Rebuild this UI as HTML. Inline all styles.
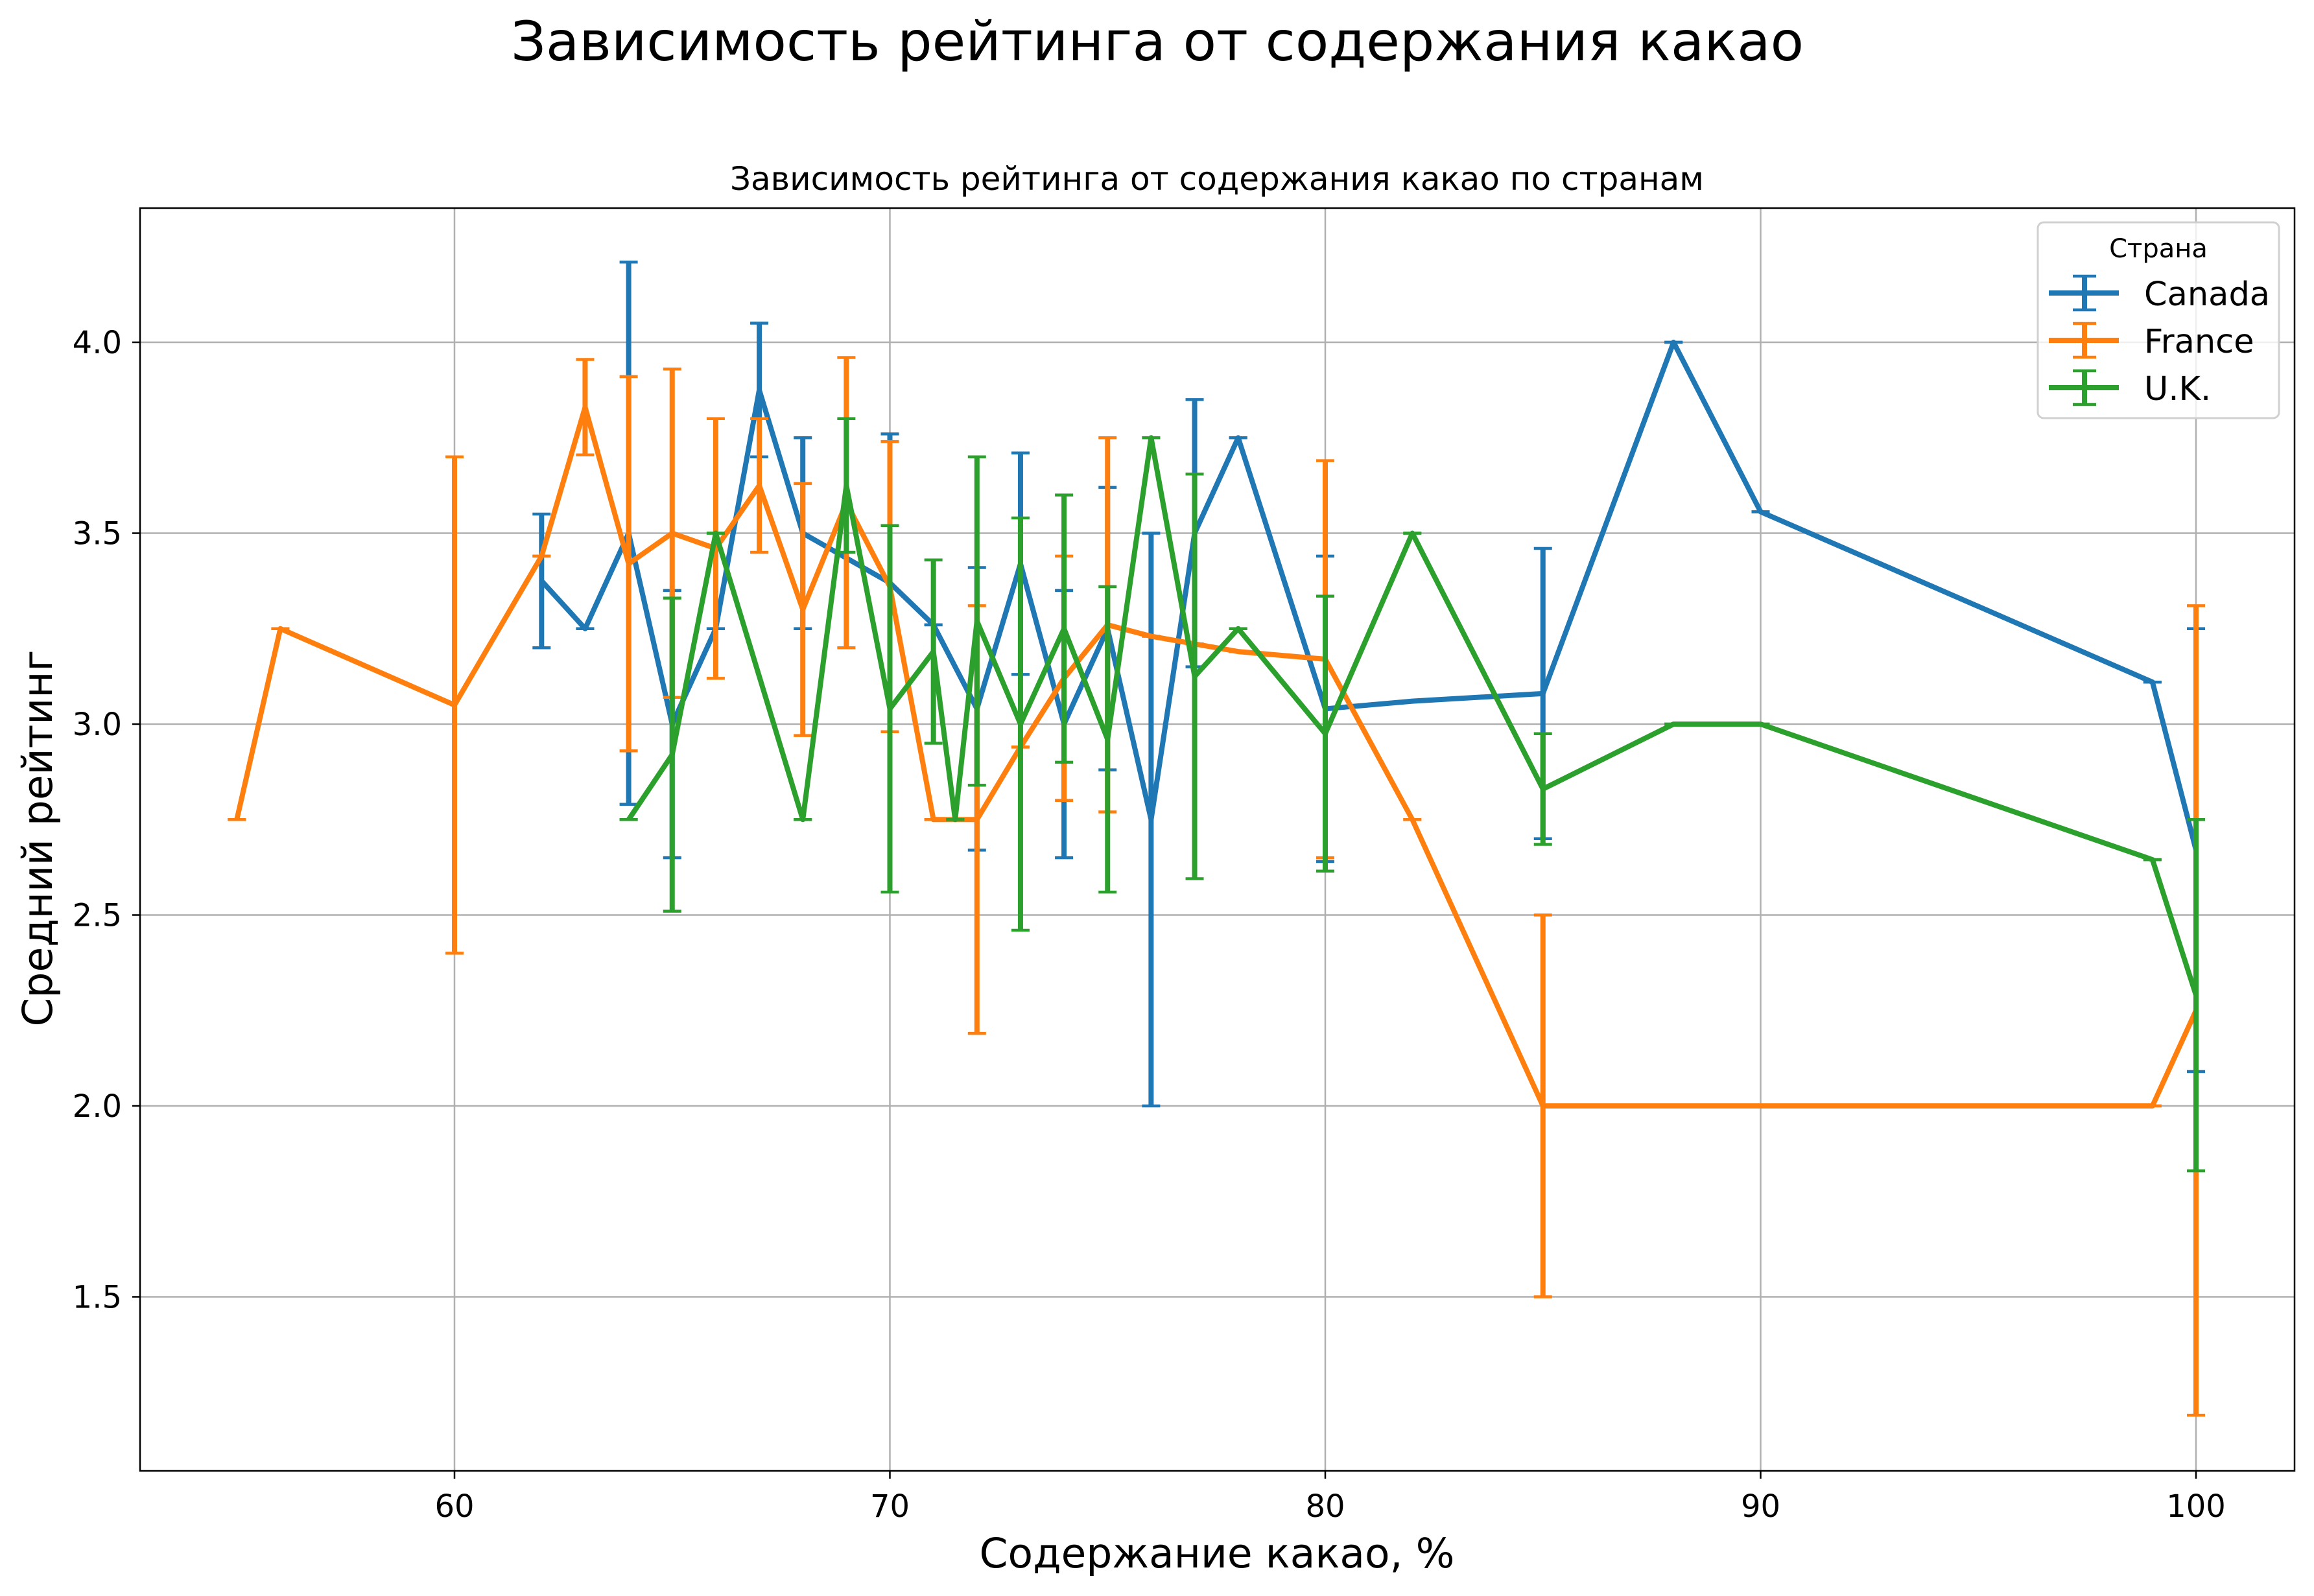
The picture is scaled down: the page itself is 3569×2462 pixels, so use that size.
<!DOCTYPE html>
<html><head><meta charset="utf-8"><style>
html,body{margin:0;padding:0;background:#fff}
svg text{font-family:"DejaVu Sans","Liberation Sans",sans-serif}
</style></head><body>
<svg id="chart" width="3569" height="2457" viewBox="0 0 3569 2457" xmlns="http://www.w3.org/2000/svg">
<rect width="3569" height="2457" fill="#fff"/>
<text x="1785" y="93" font-size="84" text-anchor="middle">Зависимость рейтинга от содержания какао</text>
<text x="1877" y="293" font-size="50" text-anchor="middle">Зависимость рейтинга от содержания какао по странам</text>
<g id="grid"></g>
<g id="series"></g>
<rect x="216" y="321" width="3323" height="1948" fill="none" stroke="#000" stroke-width="2.5"/>
<g id="ticks"></g>
<text x="1877" y="2418" font-size="63" text-anchor="middle">Содержание какао, %</text>
<text x="0" y="0" font-size="63" text-anchor="middle" transform="translate(80,1293) rotate(-90)">Средний рейтинг</text>
<g id="legend">
<rect x="3143" y="343" width="372" height="302" rx="9" fill="#fff" fill-opacity="0.8" stroke="#d0d0d0" stroke-width="3"/>
<text x="3329" y="397" font-size="40" text-anchor="middle">Страна</text>
</g>
</svg>
<script>
const NS="http://www.w3.org/2000/svg";
const caX=[62,63,64,65,66,67,68,70,71,72,73,74,75,76,77,78,80,82,85,88,90,99,100];
const caY=[3.375,3.25,3.5,3.0,3.25,3.875,3.5,3.37,3.26,3.04,3.42,3.0,3.25,2.75,3.5,3.75,3.04,3.06,3.08,4.0,3.556,3.11,2.67];
const caE=[0.175,0,0.71,0.35,0,0.175,0.25,0.39,0,0.37,0.29,0.35,0.37,0.75,0.35,0,0.40,0,0.38,0,0,0,0.58];
const frX=[55,56,60,62,63,64,65,66,67,68,69,70,71,72,73,74,75,76,77,78,80,82,85,99,100];
const frY=[2.75,3.25,3.05,3.44,3.83,3.42,3.5,3.46,3.625,3.30,3.58,3.36,2.75,2.75,2.94,3.12,3.26,3.23,3.21,3.19,3.17,2.75,2.0,2.0,2.25];
const frE=[0,0,0.65,0,0.125,0.49,0.43,0.34,0.175,0.33,0.38,0.38,0,0.56,0,0.32,0.49,0,0,0,0.52,0,0.5,0,1.06];
const ukX=[64,65,66,68,69,70,71,71.5,72,73,74,75,76,77,78,80,82,85,88,90,99,100];
const ukY=[2.75,2.92,3.5,2.75,3.625,3.04,3.19,2.75,3.27,3.0,3.25,2.96,3.75,3.125,3.25,2.975,3.5,2.83,3.0,3.0,2.645,2.29];
const ukE=[0,0.41,0,0,0.175,0.48,0.24,0,0.43,0.54,0.35,0.40,0,0.53,0,0.36,0,0.145,0,0,0,0.46];
const xTicks=[60,70,80,90,100];
const yTicks=[1.5,2.0,2.5,3.0,3.5,4.0];
const names=["Canada","France","U.K."];
const colors=["#1f77b4","#ff7f0e","#2ca02c"];
const X=v=>701+(v-60)*67.15;
const Y=v=>528+(4.0-v)*589;
function mk(t,a,p){const e=document.createElementNS(NS,t);for(const k in a)e.setAttribute(k,a[k]);(p||document.getElementById('series')).appendChild(e);return e;}
const grid=document.getElementById('grid'),ticks=document.getElementById('ticks');
xTicks.forEach(v=>{
 const g=mk('line',{x1:X(v),x2:X(v),y1:321,y2:2269,stroke:'#b0b0b0','stroke-width':2.5},grid);
 
 
 const t=mk('line',{x1:X(v),x2:X(v),y1:2269,y2:2281,stroke:'#000','stroke-width':2.5},ticks);
 
 
 const l=mk('text',{x:X(v),y:2340,'font-size':48,'text-anchor':'middle'},ticks);l.textContent=v;
 
 
});
yTicks.forEach(v=>{
 const g=mk('line',{x1:216,x2:3539,y1:Y(v),y2:Y(v),stroke:'#b0b0b0','stroke-width':2.5},grid);
 
 
 const t=mk('line',{x1:204,x2:216,y1:Y(v),y2:Y(v),stroke:'#000','stroke-width':2.5},ticks);
 
 
 const l=mk('text',{x:188,y:Y(v)+17,'font-size':48,'text-anchor':'end'},ticks);l.textContent=v.toFixed(1);
 
 
});
const S=[[caX,caY,caE],[frX,frY,frE],[ukX,ukY,ukE]];
S.forEach((s,i)=>{
 const c=colors[i];
 const g=mk('g',{});
 
 
 s[0].forEach((x,j)=>{
  const e=s[2][j],y=s[1][j];
  const b=mk('line',{x1:X(x),x2:X(x),y1:Y(y-e),y2:Y(y+e),stroke:c,'stroke-width':8},g);
  
  
  [y-e,y+e].forEach(v=>{
   const cp=mk('line',{x1:X(x)-14,x2:X(x)+14,y1:Y(v),y2:Y(v),stroke:c,'stroke-width':4.5},g);
   
   
  });
 });
 const p=mk('polyline',{points:s[0].map((x,j)=>X(x)+','+Y(s[1][j])).join(' '),fill:'none',stroke:c,'stroke-width':8,'stroke-linejoin':'round'},g);
 
 
 const lg=document.getElementById('legend'),ly=452+i*73;
 const e=mk('g',{},lg);
 
 
 mk('line',{x1:3160,x2:3268,y1:ly,y2:ly,stroke:c,'stroke-width':8},e);
 mk('line',{x1:3215,x2:3215,y1:ly-26,y2:ly+26,stroke:c,'stroke-width':8},e);
 mk('line',{x1:3197,x2:3233,y1:ly-26,y2:ly-26,stroke:c,'stroke-width':4.5},e);
 mk('line',{x1:3197,x2:3233,y1:ly+26,y2:ly+26,stroke:c,'stroke-width':4.5},e);
 const t=mk('text',{x:3307,y:ly+19,'font-size':51},e);t.textContent=names[i];
});
</script>
</body></html>
